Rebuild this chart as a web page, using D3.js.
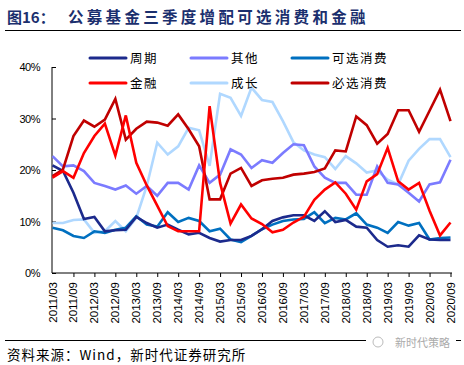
<!DOCTYPE html>
<html>
<head>
<meta charset="utf-8">
<script src="https://cdn.jsdelivr.net/npm/d3@7"></script>
<style>
  body { margin: 0; background: #fff; }
  svg { display: block; }
</style>
</head>
<body>
<svg id="chart" width="464" height="365"></svg>
<script>
// quarters
var quarters = ["2011/03","2011/06","2011/09","2011/12","2012/03","2012/06","2012/09","2012/12",
  "2013/03","2013/06","2013/09","2013/12","2014/03","2014/06","2014/09","2014/12",
  "2015/03","2015/06","2015/09","2015/12","2016/03","2016/06","2016/09","2016/12",
  "2017/03","2017/06","2017/09","2017/12","2018/03","2018/06","2018/09","2018/12",
  "2019/03","2019/06","2019/09","2019/12","2020/03","2020/06","2020/09"];

var seriesNames = ["周期","其他","可选消费","金融","成长","必选消费"];
var seriesColors = ["#1c2a8c","#7b7bff","#0070c0","#ff0000","#b0d8ff","#c00000"];

var zhouqi = [20.9,19.8,15.6,10.5,10.9,8.1,8.3,8.4,10.9,9.7,8.8,9.4,8.4,7.5,7.8,6.8,6.1,6.4,6.4,7.2,
  8.5,10.1,10.8,11.2,11.2,10.1,12.0,9.9,10.3,9.0,8.8,6.4,5.1,5.4,5.1,7.3,6.5,6.4,6.4];
var qita = [22.7,20.7,20.9,19.8,17.5,16.9,16.2,17.0,15.4,16.9,15.0,17.5,17.5,16.2,20.9,17.5,19.1,24.0,23.0,20.4,
  21.9,21.4,23.3,25.0,24.8,20.7,18.5,17.5,17.5,15.2,15.2,20.7,17.5,17.2,15.6,13.9,17.2,17.6,22.0];
var kexuan = [8.8,8.3,7.2,6.8,8.1,7.8,8.4,8.8,11.0,9.4,9.0,11.8,9.9,10.7,10.1,8.1,8.6,6.5,6.0,7.2,
  8.5,9.4,10.1,10.4,10.5,11.8,9.7,10.7,10.4,11.6,9.4,8.8,7.8,9.9,9.2,9.7,6.5,6.8,6.9];
var jinrong = [18.5,19.8,18.5,23.3,26.6,29.0,22.8,30.6,21.4,17.0,13.1,9.1,8.1,8.1,8.1,32.4,17.5,9.6,13.3,10.6,
  9.5,7.9,8.4,9.8,10.9,14.2,16.2,17.6,15.4,12.3,17.8,19.2,24.3,17.8,16.2,17.5,12.1,7.3,9.8];
var chengzhang = [9.7,9.7,10.3,10.4,7.8,8.1,10.1,8.1,10.7,16.9,25.3,23.0,24.6,28.2,27.7,20.8,34.8,34.0,30.5,36.0,
  33.6,33.2,29.5,25.4,23.8,23.0,22.5,20.2,22.7,21.3,19.5,19.9,18.1,17.2,21.8,24.1,26.0,26.0,22.5];
var bixuan = [18.8,20.1,26.6,29.6,28.4,29.8,33.8,25.9,28.0,29.4,29.2,28.6,30.8,27.9,24.6,14.3,14.3,19.3,20.4,16.9,
  18.0,18.3,18.5,19.1,19.3,19.6,20.3,23.8,23.6,30.4,28.7,25.1,27.0,31.6,31.6,27.4,31.5,35.6,29.5];

var yTicks = [0,10,20,30,40];

var allSeries = [zhouqi, qita, kexuan, jinrong, chengzhang, bixuan];

var svg = d3.select("#chart");
var cnFont = "'Noto Sans CJK SC', sans-serif";

// title
svg.append("text").attr("x", 7).attr("y", 23)
  .style("font-family", cnFont).style("font-size", "15px").style("font-weight", "bold")
  .style("fill", "#1b2f6e").text("图16：");
svg.append("text").attr("x", 68).attr("y", 23)
  .style("font-family", cnFont).style("font-size", "15.5px").style("font-weight", "bold")
  .style("letter-spacing", "3.3px").style("fill", "#1b2f6e").text("公募基金三季度增配可选消费和金融");
svg.append("line").attr("x1", 5).attr("x2", 461).attr("y1", 30.5).attr("y2", 30.5)
  .style("stroke", "#000").style("stroke-width", 1);

// scales
var x = d3.scalePoint().domain(quarters).range([52.5, 450.5]);
var y = d3.scaleLinear().domain([0, 40]).range([273, 67]);

// y axis
var yAxis = svg.append("g").attr("transform", "translate(52,0)")
  .call(d3.axisRight(y).tickValues(yTicks).tickSize(4).tickFormat(""));
yAxis.select(".domain").attr("d", "M0,67V273");
yAxis.selectAll("line, path").style("stroke", "#000");

svg.selectAll("text.ylab").data(yTicks).enter().append("text").attr("class", "ylab")
  .attr("x", 40).attr("y", function(d) { return y(d) + 4; })
  .attr("text-anchor", "end")
  .style("font-family", "'Liberation Sans', Arial, sans-serif").style("font-size", "11px")
  .style("letter-spacing", "-0.5px")
  .text(function(d) { return d + "%"; });

// x axis
var labelQuarters = quarters.filter(function(d, i) { return i % 2 == 0; });
var xAxis = svg.append("g").attr("transform", "translate(0,273)")
  .call(d3.axisBottom(x).tickValues(labelQuarters.slice(1)).tickSize(4).tickFormat(""));
xAxis.select(".domain").attr("d", "M52,0H452");
xAxis.selectAll("line, path").style("stroke", "#000");

svg.selectAll("text.xlab").data(labelQuarters).enter().append("text").attr("class", "xlab")
  .attr("transform", function(d) { return "translate(" + (x(d) + 4) + ",282) rotate(-90)"; })
  .attr("text-anchor", "end")
  .style("font-family", "'Liberation Sans', Arial, sans-serif").style("font-size", "11.5px")
  .text(function(d) { return d; });

// lines
var line = d3.line()
  .x(function(d, i) { return x(quarters[i]); })
  .y(function(d) { return y(d); });

var drawOrder = [4, 1, 2, 0, 5, 3];
drawOrder.forEach(function(k) {
  svg.append("path").datum(allSeries[k])
    .attr("d", line)
    .style("fill", "none")
    .style("stroke", seriesColors[k])
    .style("stroke-width", 2.6)
    .style("stroke-linejoin", "miter");
});

// legend
var legendX = [90, 191, 292];
var legendY = [58, 83];
seriesNames.forEach(function(name, k) {
  var lx = legendX[k % 3], ly = legendY[Math.floor(k / 3)];
  svg.append("line").attr("x1", lx).attr("x2", lx + 36).attr("y1", ly).attr("y2", ly)
    .style("stroke", seriesColors[k]).style("stroke-width", 3).style("stroke-linecap", "round");
  svg.append("text").attr("x", lx + 40).attr("y", ly + 4.5)
    .style("font-family", cnFont).style("font-size", "12.5px").style("letter-spacing", "1.5px")
    .style("fill", "#000").text(name);
});

// footer
svg.append("line").attr("x1", 5).attr("x2", 461).attr("y1", 340.5).attr("y2", 340.5)
  .style("stroke", "#000").style("stroke-width", 1);
svg.append("text").attr("x", 7).attr("y", 360)
  .style("font-family", cnFont).style("font-size", "13.5px").style("letter-spacing", "1px")
  .text("资料来源：Wind，新时代证券研究所");
svg.append("rect").attr("x", 366).attr("y", 334).attr("width", 90).attr("height", 16).style("fill", "#fff");
svg.append("circle").attr("cx", 378).attr("cy", 342).attr("r", 5)
  .style("fill", "none").style("stroke", "#bbb").style("stroke-width", 1);
svg.append("text").attr("x", 395).attr("y", 347)
  .style("font-family", cnFont).style("font-size", "11px").style("fill", "#aaa")
  .text("新时代策略");
</script>
</body>
</html>
